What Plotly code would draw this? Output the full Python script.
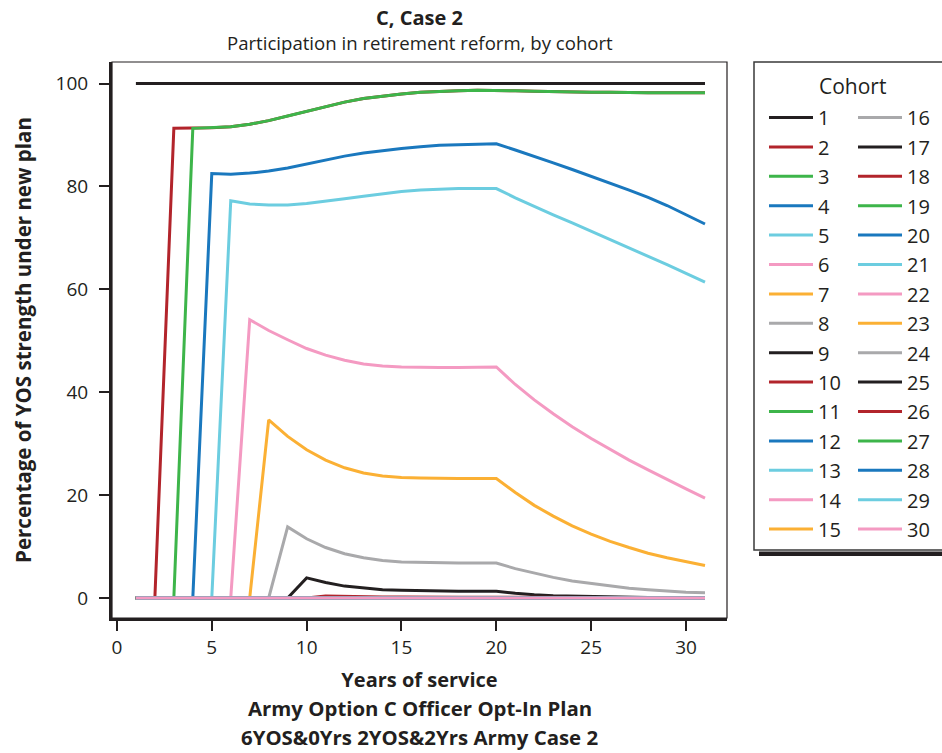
import plotly.graph_objects as go

years = list(range(1, 32))

c1 = [100.0] * 31
c2 = [0, 0, 91.3, 91.3, 91.4, 91.6, 92.1, 92.8, 93.7, 94.6, 95.6, 96.4, 97.1, 97.6, 98.0, 98.3,
      98.5, 98.6, 98.7, 98.7, 98.6, 98.5, 98.4, 98.4, 98.3, 98.3, 98.2, 98.2, 98.2, 98.2, 98.2]
c3 = [0, 0, 0, 91.3, 91.4, 91.6, 92.1, 92.8, 93.7, 94.6, 95.6, 96.4, 97.1, 97.6, 98.0, 98.3,
      98.5, 98.6, 98.7, 98.7, 98.6, 98.5, 98.4, 98.4, 98.3, 98.3, 98.2, 98.2, 98.2, 98.2, 98.2]
c4 = [0, 0, 0, 0, 82.5, 82.4, 82.6, 83.0, 83.6, 84.4, 85.2, 85.9, 86.5, 87.0, 87.4, 87.7,
      88.0, 88.1, 88.2, 88.3, 87.1, 85.9, 84.6, 83.3, 82.0, 80.7, 79.3, 77.9, 76.3, 74.5, 72.7]
c5 = [0, 0, 0, 0, 0, 77.2, 76.6, 76.4, 76.4, 76.7, 77.1, 77.6, 78.1, 78.6, 79.0, 79.3,
      79.5, 79.6, 79.6, 79.6, 77.8, 76.1, 74.5, 72.9, 71.3, 69.7, 68.0, 66.4, 64.8, 63.1, 61.4]
c6 = [0, 0, 0, 0, 0, 0, 54.1, 52.0, 50.2, 48.5, 47.2, 46.2, 45.5, 45.1, 44.9, 44.8,
      44.8, 44.8, 44.9, 44.9, 41.5, 38.5, 35.8, 33.3, 31.0, 28.9, 26.8, 24.9, 23.0, 21.2, 19.4]
c7 = [0, 0, 0, 0, 0, 0, 0, 34.6, 31.4, 28.8, 26.8, 25.3, 24.3, 23.7, 23.4, 23.3,
      23.2, 23.2, 23.2, 23.2, 20.5, 18.0, 15.9, 14.0, 12.4, 11.0, 9.8, 8.7, 7.8, 7.0, 6.3]
c8 = [0, 0, 0, 0, 0, 0, 0, 0, 13.8, 11.5, 9.8, 8.6, 7.8, 7.3, 7.0, 6.9,
      6.8, 6.8, 6.8, 6.8, 5.7, 4.8, 4.0, 3.3, 2.8, 2.3, 1.9, 1.6, 1.3, 1.1, 1.0]
c9 = [0, 0, 0, 0, 0, 0, 0, 0, 0, 3.9, 3.0, 2.3, 1.9, 1.6, 1.5, 1.4,
      1.35, 1.3, 1.3, 1.3, 0.9, 0.6, 0.45, 0.35, 0.25, 0.2, 0.15, 0.1, 0.1, 0.05, 0.05]
c10 = [0, 0, 0, 0, 0, 0, 0, 0, 0, 0, 0.4, 0.3, 0.25, 0.2, 0.2, 0.15,
       0.15, 0.15, 0.15, 0.15, 0.1, 0.1, 0.1, 0.1, 0.1, 0.05, 0.05, 0.05, 0.05, 0.05, 0.05]
zeros = [0, 0, 0, 0, 0, 0, 0, 0, 0, 0, 0, 0, 0, 0, 0, 0,
         0, 0, 0, 0, 0, 0, 0, 0, 0, 0, 0, 0, 0, 0, 0]

cohort_names = [str(i) for i in range(1, 31)]
cohort_values = [c1, c2, c3, c4, c5, c6, c7, c8, c9, c10] + [zeros] * 20

palette = ["#231f20", "#b2242b", "#3db54a", "#1a78be", "#6ccde0", "#f49ac2", "#fbb034", "#a9a9ab"]

x_ticks = [0, 5, 10, 15, 20, 25, 30]
y_ticks = [0, 20, 40, 60, 80, 100]

FONT = "Open Sans"
INK = "#231f20"

W, H = 942, 753
L, R, T, B = 112, 727, 62, 618
pw, ph = R - L, B - T


def px_x(p):
    return (p - L) / pw


def px_y(p):
    return (B - p) / ph


fig = go.Figure()
for i, (name, vals) in enumerate(zip(cohort_names, cohort_values)):
    fig.add_trace(go.Scatter(
        x=years, y=vals, mode="lines", name=name,
        line=dict(color=palette[i % 8], width=3),
        legend="legend" if i < 15 else "legend2",
        legendgroup=name,
    ))

legend_common = dict(
    font=dict(family=FONT, size=20, color=INK),
    bgcolor="rgba(0,0,0,0)", borderwidth=0,
    itemwidth=44, tracegroupgap=0.4, xanchor="left", yanchor="top",
    itemclick=False, itemdoubleclick=False,
)

fig.update_layout(
    width=W, height=H,
    margin=dict(l=L, r=W - R, t=T, b=H - B, pad=0, autoexpand=False),
    paper_bgcolor="white", plot_bgcolor="white",
    font=dict(family=FONT, color=INK),
    showlegend=True,
    legend=dict(x=px_x(764), y=px_y(98), **legend_common),
    legend2=dict(x=px_x(853), y=px_y(98), **legend_common),
    xaxis=dict(
        range=[-0.26, 32.16], tickvals=x_ticks, ticks="outside", ticklen=10, tickwidth=1.5,
        tickcolor=INK, showline=True, linewidth=3, linecolor=INK, showgrid=False, zeroline=False,
        tickfont=dict(family=FONT, size=19, color=INK),
        title=dict(text="<b>Years of service</b>", font=dict(family=FONT, size=20, color=INK), standoff=15),
    ),
    yaxis=dict(
        range=[-3.9, 104.2], tickvals=y_ticks, ticks="outside", ticklen=10, tickwidth=1.5,
        tickcolor=INK, showline=True, linewidth=3, linecolor=INK, showgrid=False, zeroline=False,
        tickfont=dict(family=FONT, size=19, color=INK), ticklabelstandoff=7,
        title=dict(text="<b>Percentage of YOS strength under new plan</b>",
                   font=dict(family=FONT, size=20.5, color=INK), standoff=19),
    ),
    shapes=[
        dict(type="rect", xref="paper", yref="paper", x0=0, x1=1, y0=0, y1=1,
             line=dict(color=INK, width=1.2), layer="above"),
        dict(type="rect", xref="paper", yref="paper", x0=px_x(754), x1=px_x(948), y0=px_y(550), y1=px_y(62),
             line=dict(color="#3a3a3a", width=1.5), fillcolor="rgba(0,0,0,0)"),
        dict(type="rect", xref="paper", yref="paper", x0=px_x(759), x1=px_x(948), y0=px_y(556), y1=px_y(551.5),
             line=dict(width=0), fillcolor=INK),
    ],
    annotations=[
        dict(text="<b>C, Case 2</b>", xref="paper", yref="paper", x=0.5, y=px_y(17),
             xanchor="center", yanchor="middle", showarrow=False,
             font=dict(family=FONT, size=20, color=INK)),
        dict(text="Participation in retirement reform, by cohort", xref="paper", yref="paper",
             x=0.5, y=px_y(42), xanchor="center", yanchor="middle", showarrow=False,
             font=dict(family=FONT, size=18.6, color=INK)),
        dict(text="Cohort", xref="paper", yref="paper", x=px_x(852), y=px_y(86),
             xanchor="center", yanchor="middle", showarrow=False,
             font=dict(family=FONT, size=21, color=INK)),
        dict(text="<b>Army Option C Officer Opt-In Plan</b>", xref="paper", yref="paper",
             x=0.5, y=px_y(708), xanchor="center", yanchor="middle", showarrow=False,
             font=dict(family=FONT, size=20.4, color=INK)),
        dict(text="<b>6YOS&0Yrs 2YOS&2Yrs Army Case 2</b>", xref="paper", yref="paper",
             x=0.5, y=px_y(737), xanchor="center", yanchor="middle", showarrow=False,
             font=dict(family=FONT, size=20.4, color=INK)),
    ],
)

# remove the browser's default 8px page margin so the figure sits at the window origin
fig.write_html(
    "out.html",
    config={"displayModeBar": False},
    post_script="document.body.style.margin='0';document.body.style.overflow='hidden';",
)
